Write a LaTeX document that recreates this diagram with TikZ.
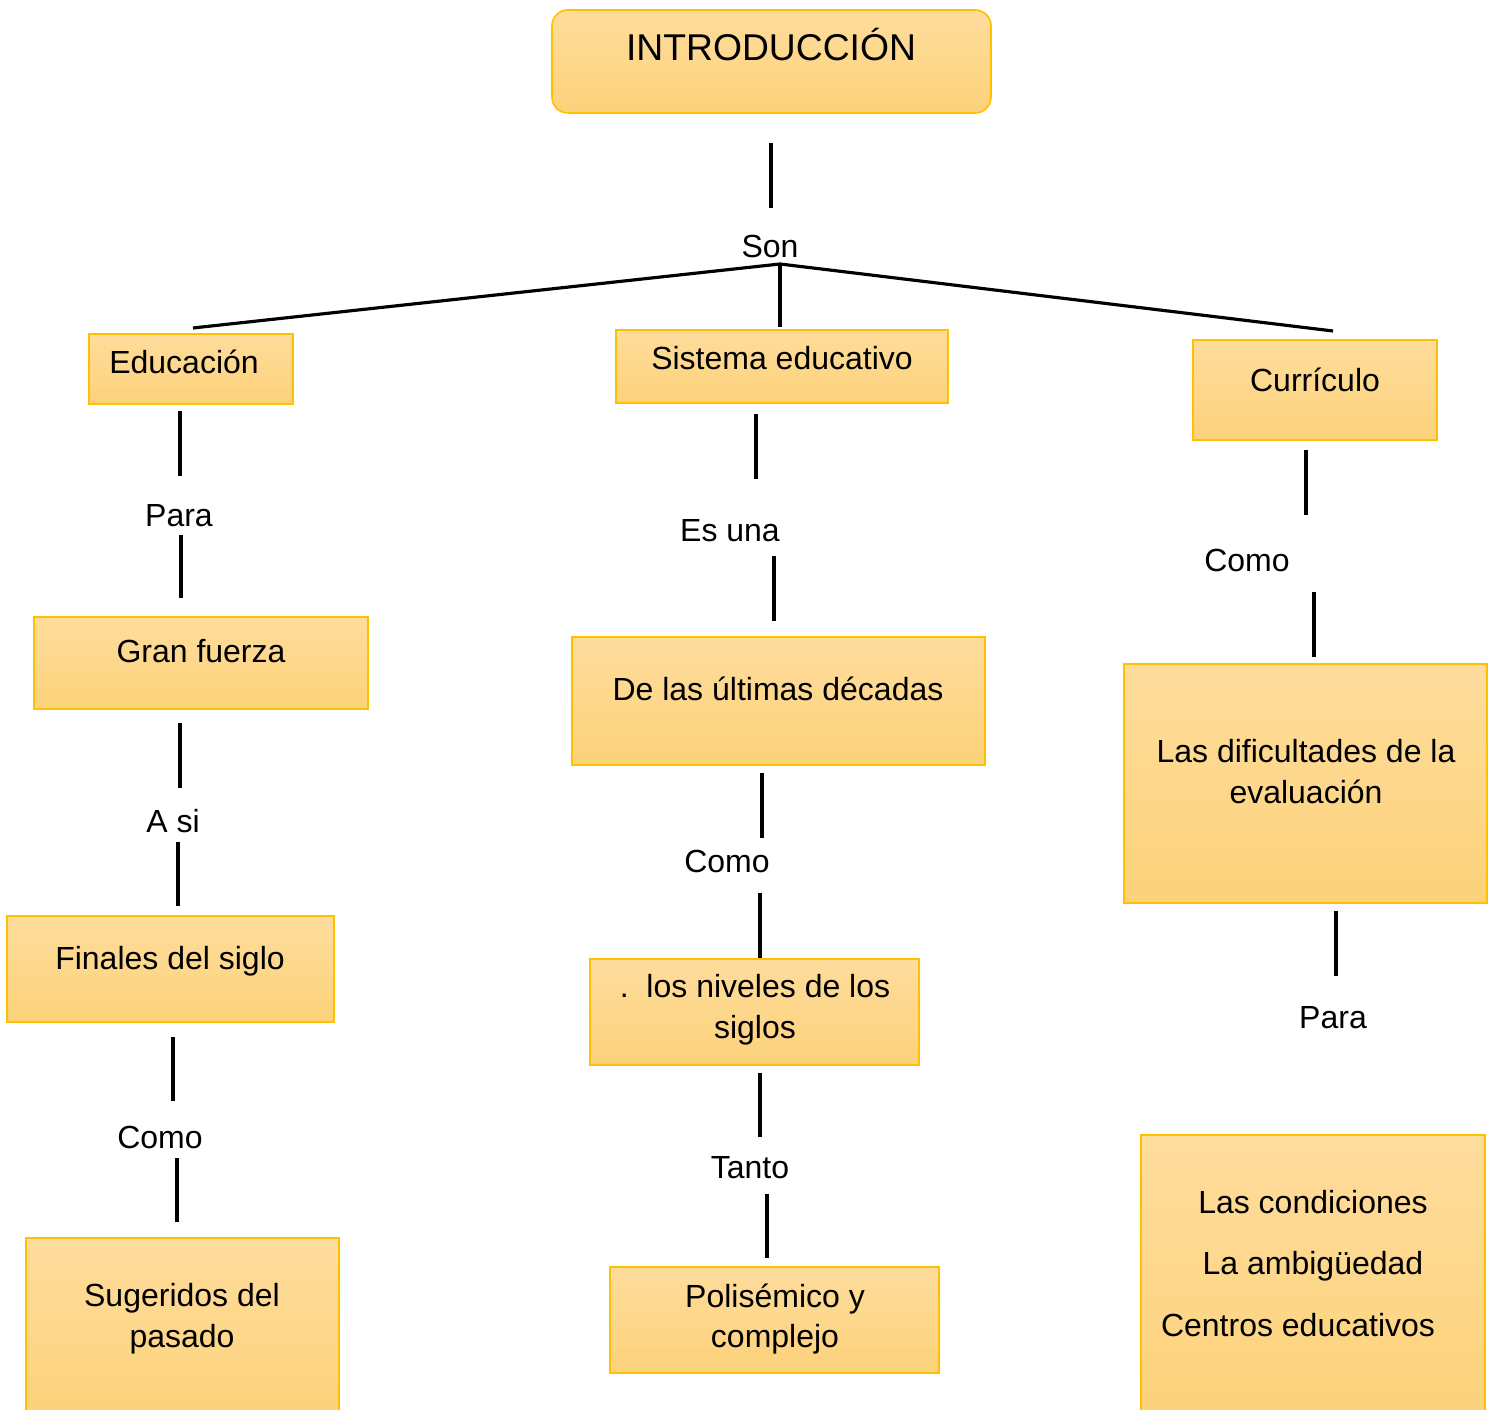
\documentclass[tikz,border=0pt]{standalone}
\usepackage{fontspec}
\setmainfont{Liberation Sans}
\usetikzlibrary{calc}

\definecolor{borde}{HTML}{FFC000}
\definecolor{claro}{HTML}{FEDC9C}
\definecolor{oscuro}{HTML}{FCD27A}

\tikzset{
  caja/.style={draw=borde, line width=.45pt, top color=claro, bottom color=oscuro},
  txt/.style={anchor=base, inner sep=0pt, font=\fontsize{9.1}{11.7}\selectfont},
  linea/.style={black, line width=1.1pt}
}

\begin{document}
\begin{tikzpicture} [x=.01cm, y=-.01cm]
\clip (0,0) rectangle (1497,1410);

% cajas
\draw[caja, rounded corners=4.5pt] (552,10) rectangle (991,113);
\foreach \a/\b/\c/\d in {89/334/293/404, 616/330/948/403, 1193/340/1437/440, 34/617/368/709, 572/637/985/765, 1124/664/1487/903, 7/916/334/1022, 590/959/919/1065, 26/1238/339/1420, 610/1267/939/1373, 1141/1135/1485/1420}
  \draw[caja] (\a,\b) rectangle (\c,\d);

% textos
\node[txt, font=\fontsize{10.6}{12}\selectfont] (intro) at (771,61) {INTRODUCCIÓN};
\node[txt] (son) at (770,258) {Son};
\node[txt] (educ) at (184,374) {Educación};
\node[txt] (sist) at (782,370) {Sistema educativo};
\node[txt] (curr) at (1315,392) {Currículo};
\node[txt] (para1) at (179,527) {Para};
\node[txt] (esuna) at (730,542) {Es una};
\node[txt] (como1) at (1247,572) {Como};
\node[txt] (gran) at (201,663) {Gran fuerza};
\node[txt] (decadas) at (778,701) {De las últimas décadas};
\node[txt] (dific1) at (1306,763) {Las dificultades de la};
\node[txt] (dific2) at (1306,804) {evaluación};
\node[txt] (asi) at (173,833) {A si};
\node[txt] (como2) at (727,873) {Como};
\node[txt] (finales) at (170,969) {Finales del siglo};
\node[txt] (nivel1) at (755,998) {.\ \ los niveles de los};
\node[txt] (nivel2) at (755,1038) {siglos};
\node[txt] (para2) at (1333,1028) {Para};
\node[txt] (como3) at (160,1148) {Como};
\node[txt] (tanto) at (750,1178) {Tanto};
\node[txt] (cond1) at (1313,1213) {Las condiciones};
\node[txt] (cond2) at (1313,1274) {La ambigüedad};
\node[txt] (cond3) at (1298,1336) {Centros educativos};
\node[txt] (suger1) at (182,1306) {Sugeridos del};
\node[txt] (suger2) at (182,1347) {pasado};
\node[txt] (polis1) at (775,1307) {Polisémico y};
\node[txt] (polis2) at (775,1347) {complejo};

% conectores
\coordinate (rama) at (780,264);
\draw[linea, line width=.9pt] (rama) -- (193,328);
\draw[linea, line width=.9pt] (rama) -- (1333,331);
\draw[linea] (rama) -- (780,327);
\foreach \x/\a/\b in {771/143/208, 180/411/476, 181/535/598, 180/723/788, 178/842/906, 173/1037/1101, 177/1158/1222, 756/414/479, 774/556/621, 762/773/838, 760/893/958, 760/1073/1137, 767/1194/1258, 1306/450/515, 1314/592/657, 1336/911/976}
  \draw[linea] (\x,\a) -- (\x,\b);

\end{tikzpicture}
\end{document}
